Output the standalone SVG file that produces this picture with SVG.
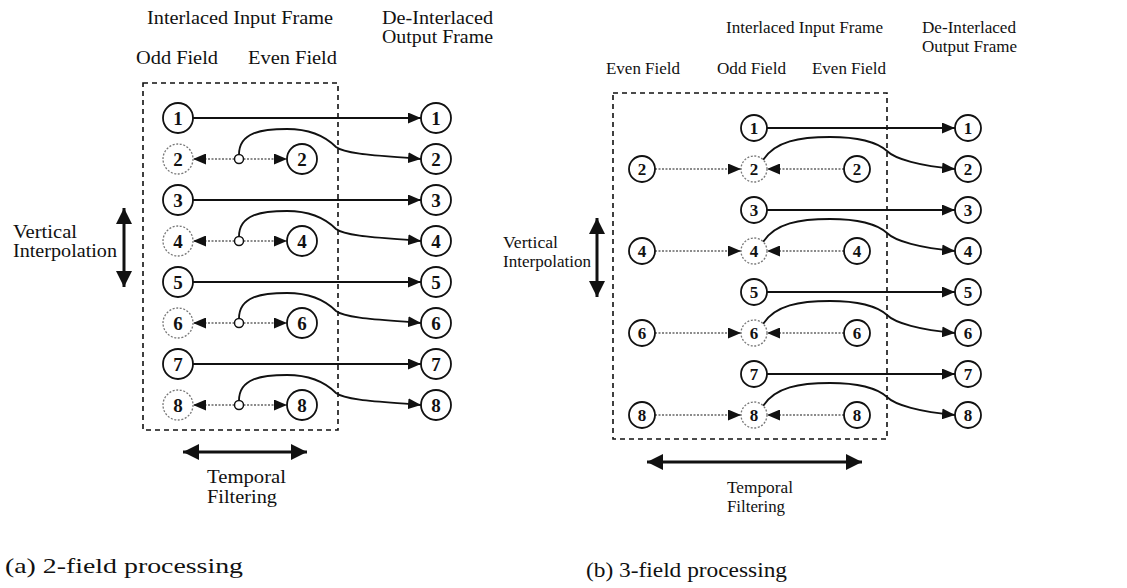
<svg xmlns="http://www.w3.org/2000/svg" width="1127" height="588" viewBox="0 0 1127 588">
<style>
text{font-family:"Liberation Serif","Times New Roman",serif;fill:#111}
.la{font-size:18px}
.lb{font-size:16px}
.cap{font-size:21px;font-family:"Liberation Serif",serif}
.n{fill:#fff;stroke:#111;stroke-width:1.8}
.nd{fill:#fff;stroke:#777;stroke-width:1.3;stroke-dasharray:2 1.6}
.da{font-size:19px;text-anchor:middle;font-weight:bold}
.db{font-size:17px;text-anchor:middle;font-weight:bold}
.box{fill:none;stroke:#111;stroke-width:1.6;stroke-dasharray:5 4}
.s{fill:none;stroke:#111;stroke-width:1.8}
.dot{fill:none;stroke:#666;stroke-width:1.4;stroke-dasharray:2 1.5}
.thick{fill:none;stroke:#111;stroke-width:3}
</style>
<defs>
<marker id="ah" markerUnits="userSpaceOnUse" markerWidth="13" markerHeight="11" refX="13" refY="5.5" orient="auto-start-reverse"><path d="M0,0 L13,5.5 L0,11 z" fill="#111"/></marker>
<marker id="big" markerUnits="userSpaceOnUse" markerWidth="16" markerHeight="16" refX="16" refY="8" orient="auto-start-reverse"><path d="M0,0 L16,8 L0,16 z" fill="#111"/></marker>
</defs>

<!-- ===== (a) 2-field ===== -->
<g id="labels-a">
<text class="la" x="147" y="24" textLength="186" lengthAdjust="spacingAndGlyphs">Interlaced Input Frame</text>
<text class="la" x="382" y="24" textLength="111" lengthAdjust="spacingAndGlyphs">De-Interlaced</text>
<text class="la" x="382" y="43" textLength="111" lengthAdjust="spacingAndGlyphs">Output Frame</text>
<text class="la" x="136" y="64" textLength="82" lengthAdjust="spacingAndGlyphs">Odd Field</text>
<text class="la" x="248" y="64" textLength="89" lengthAdjust="spacingAndGlyphs">Even Field</text>
<text class="la" x="13" y="238" textLength="64" lengthAdjust="spacingAndGlyphs">Vertical</text>
<text class="la" x="13" y="257" textLength="104" lengthAdjust="spacingAndGlyphs">Interpolation</text>
<text class="la" x="207" y="483" textLength="79" lengthAdjust="spacingAndGlyphs">Temporal</text>
<text class="la" x="207" y="503" textLength="70" lengthAdjust="spacingAndGlyphs">Filtering</text>
<text class="cap" x="5" y="573" textLength="238" lengthAdjust="spacingAndGlyphs">(a) 2-field processing</text>
</g>
<rect id="frame-a" class="box" x="143" y="83" width="195" height="347"/>

<g id="connectors-a">
<line class="s" x1="193" y1="118" x2="421" y2="118" marker-end="url(#ah)"/>
<line class="s" x1="193" y1="200" x2="421" y2="200" marker-end="url(#ah)"/>
<line class="s" x1="193" y1="282" x2="421" y2="282" marker-end="url(#ah)"/>
<line class="s" x1="193" y1="364" x2="421" y2="364" marker-end="url(#ah)"/>
<line class="dot" x1="234.5" y1="159" x2="193" y2="159" marker-end="url(#ah)"/>
<line class="dot" x1="243.5" y1="159" x2="287" y2="159" marker-end="url(#ah)"/>
<line class="dot" x1="234.5" y1="241" x2="193" y2="241" marker-end="url(#ah)"/>
<line class="dot" x1="243.5" y1="241" x2="287" y2="241" marker-end="url(#ah)"/>
<line class="dot" x1="234.5" y1="323" x2="193" y2="323" marker-end="url(#ah)"/>
<line class="dot" x1="243.5" y1="323" x2="287" y2="323" marker-end="url(#ah)"/>
<line class="dot" x1="234.5" y1="405" x2="193" y2="405" marker-end="url(#ah)"/>
<line class="dot" x1="243.5" y1="405" x2="287" y2="405" marker-end="url(#ah)"/>
<path class="s" d="M239,154.5 C239,132 262,129 287,129 C312,129 326,137 336,147 C346,155 390,156 421,159" marker-end="url(#ah)"/>
<path class="s" d="M239,236.5 C239,214 262,211 287,211 C312,211 326,219 336,229 C346,237 390,238 421,241" marker-end="url(#ah)"/>
<path class="s" d="M239,318.5 C239,296 262,293 287,293 C312,293 326,301 336,311 C346,319 390,320 421,323" marker-end="url(#ah)"/>
<path class="s" d="M239,400.5 C239,378 262,375 287,375 C312,375 326,383 336,393 C346,401 390,402 421,405" marker-end="url(#ah)"/>
<line class="thick" x1="124" y1="208" x2="124" y2="287" marker-start="url(#big)" marker-end="url(#big)"/>
<line class="thick" x1="183" y1="452" x2="307" y2="452" marker-start="url(#big)" marker-end="url(#big)"/>
</g>

<g id="a-odd-1"><circle class="n" cx="178" cy="118" r="15"/><text class="da" x="178" y="125">1</text></g>
<g id="a-odd-2"><circle class="nd" cx="178" cy="159" r="15"/><text class="da" x="178" y="166">2</text></g>
<g id="a-odd-3"><circle class="n" cx="178" cy="200" r="15"/><text class="da" x="178" y="207">3</text></g>
<g id="a-odd-4"><circle class="nd" cx="178" cy="241" r="15"/><text class="da" x="178" y="248">4</text></g>
<g id="a-odd-5"><circle class="n" cx="178" cy="282" r="15"/><text class="da" x="178" y="289">5</text></g>
<g id="a-odd-6"><circle class="nd" cx="178" cy="323" r="15"/><text class="da" x="178" y="330">6</text></g>
<g id="a-odd-7"><circle class="n" cx="178" cy="364" r="15"/><text class="da" x="178" y="371">7</text></g>
<g id="a-odd-8"><circle class="nd" cx="178" cy="405" r="15"/><text class="da" x="178" y="412">8</text></g>
<g id="a-even-2"><circle class="n" cx="302" cy="159" r="15"/><text class="da" x="302" y="166">2</text></g>
<g id="a-even-4"><circle class="n" cx="302" cy="241" r="15"/><text class="da" x="302" y="248">4</text></g>
<g id="a-even-6"><circle class="n" cx="302" cy="323" r="15"/><text class="da" x="302" y="330">6</text></g>
<g id="a-even-8"><circle class="n" cx="302" cy="405" r="15"/><text class="da" x="302" y="412">8</text></g>
<g id="a-mix-2"><circle class="n" cx="239" cy="159" r="4.5" style="stroke-width:1.5"/></g>
<g id="a-mix-4"><circle class="n" cx="239" cy="241" r="4.5" style="stroke-width:1.5"/></g>
<g id="a-mix-6"><circle class="n" cx="239" cy="323" r="4.5" style="stroke-width:1.5"/></g>
<g id="a-mix-8"><circle class="n" cx="239" cy="405" r="4.5" style="stroke-width:1.5"/></g>
<g id="a-out-1"><circle class="n" cx="436" cy="118" r="15"/><text class="da" x="436" y="125">1</text></g>
<g id="a-out-2"><circle class="n" cx="436" cy="159" r="15"/><text class="da" x="436" y="166">2</text></g>
<g id="a-out-3"><circle class="n" cx="436" cy="200" r="15"/><text class="da" x="436" y="207">3</text></g>
<g id="a-out-4"><circle class="n" cx="436" cy="241" r="15"/><text class="da" x="436" y="248">4</text></g>
<g id="a-out-5"><circle class="n" cx="436" cy="282" r="15"/><text class="da" x="436" y="289">5</text></g>
<g id="a-out-6"><circle class="n" cx="436" cy="323" r="15"/><text class="da" x="436" y="330">6</text></g>
<g id="a-out-7"><circle class="n" cx="436" cy="364" r="15"/><text class="da" x="436" y="371">7</text></g>
<g id="a-out-8"><circle class="n" cx="436" cy="405" r="15"/><text class="da" x="436" y="412">8</text></g>

<!-- ===== (b) 3-field ===== -->
<g id="labels-b">
<text class="lb" x="726" y="33" textLength="157" lengthAdjust="spacingAndGlyphs">Interlaced Input Frame</text>
<text class="lb" x="922" y="33" textLength="94" lengthAdjust="spacingAndGlyphs">De-Interlaced</text>
<text class="lb" x="922" y="52" textLength="95" lengthAdjust="spacingAndGlyphs">Output Frame</text>
<text class="lb" x="606" y="74" textLength="74" lengthAdjust="spacingAndGlyphs">Even Field</text>
<text class="lb" x="717" y="74" textLength="69" lengthAdjust="spacingAndGlyphs">Odd Field</text>
<text class="lb" x="812" y="74" textLength="74" lengthAdjust="spacingAndGlyphs">Even Field</text>
<text class="lb" x="503" y="248" textLength="55" lengthAdjust="spacingAndGlyphs">Vertical</text>
<text class="lb" x="503" y="267" textLength="88" lengthAdjust="spacingAndGlyphs">Interpolation</text>
<text class="lb" x="727" y="493" textLength="66" lengthAdjust="spacingAndGlyphs">Temporal</text>
<text class="lb" x="727" y="512" textLength="58" lengthAdjust="spacingAndGlyphs">Filtering</text>
<text class="cap" x="586" y="577" textLength="201" lengthAdjust="spacingAndGlyphs">(b) 3-field processing</text>
</g>
<rect id="frame-b" class="box" x="613" y="93" width="274" height="346"/>

<g id="connectors-b">
<line class="s" x1="767" y1="128" x2="955" y2="128" marker-end="url(#ah)"/>
<line class="s" x1="767" y1="210" x2="955" y2="210" marker-end="url(#ah)"/>
<line class="s" x1="767" y1="292" x2="955" y2="292" marker-end="url(#ah)"/>
<line class="s" x1="767" y1="374" x2="955" y2="374" marker-end="url(#ah)"/>
<line class="dot" x1="655" y1="169" x2="741" y2="169" marker-end="url(#ah)"/>
<line class="dot" x1="844" y1="169" x2="767" y2="169" marker-end="url(#ah)"/>
<line class="dot" x1="655" y1="251" x2="741" y2="251" marker-end="url(#ah)"/>
<line class="dot" x1="844" y1="251" x2="767" y2="251" marker-end="url(#ah)"/>
<line class="dot" x1="655" y1="333" x2="741" y2="333" marker-end="url(#ah)"/>
<line class="dot" x1="844" y1="333" x2="767" y2="333" marker-end="url(#ah)"/>
<line class="dot" x1="655" y1="415" x2="741" y2="415" marker-end="url(#ah)"/>
<line class="dot" x1="844" y1="415" x2="767" y2="415" marker-end="url(#ah)"/>
<path class="s" d="M763,160 C775,141 800,137 830,137 C860,137 878,143 887,151 C895,159 920,166 955,169" marker-end="url(#ah)"/>
<path class="s" d="M763,242 C775,223 800,219 830,219 C860,219 878,225 887,233 C895,241 920,248 955,251" marker-end="url(#ah)"/>
<path class="s" d="M763,324 C775,305 800,301 830,301 C860,301 878,307 887,315 C895,323 920,330 955,333" marker-end="url(#ah)"/>
<path class="s" d="M763,406 C775,387 800,383 830,383 C860,383 878,389 887,397 C895,405 920,412 955,415" marker-end="url(#ah)"/>
<line class="thick" x1="597" y1="218" x2="597" y2="297" marker-start="url(#big)" marker-end="url(#big)"/>
<line class="thick" x1="647" y1="462" x2="862" y2="462" marker-start="url(#big)" marker-end="url(#big)"/>
</g>

<g id="b-odd-1"><circle class="n" cx="754" cy="128" r="13"/><text class="db" x="754" y="134">1</text></g>
<g id="b-odd-2"><circle class="nd" cx="754" cy="169" r="13"/><text class="db" x="754" y="175">2</text></g>
<g id="b-odd-3"><circle class="n" cx="754" cy="210" r="13"/><text class="db" x="754" y="216">3</text></g>
<g id="b-odd-4"><circle class="nd" cx="754" cy="251" r="13"/><text class="db" x="754" y="257">4</text></g>
<g id="b-odd-5"><circle class="n" cx="754" cy="292" r="13"/><text class="db" x="754" y="298">5</text></g>
<g id="b-odd-6"><circle class="nd" cx="754" cy="333" r="13"/><text class="db" x="754" y="339">6</text></g>
<g id="b-odd-7"><circle class="n" cx="754" cy="374" r="13"/><text class="db" x="754" y="380">7</text></g>
<g id="b-odd-8"><circle class="nd" cx="754" cy="415" r="13"/><text class="db" x="754" y="421">8</text></g>
<g id="b-prev-2"><circle class="n" cx="642" cy="169" r="13"/><text class="db" x="642" y="175">2</text></g>
<g id="b-prev-4"><circle class="n" cx="642" cy="251" r="13"/><text class="db" x="642" y="257">4</text></g>
<g id="b-prev-6"><circle class="n" cx="642" cy="333" r="13"/><text class="db" x="642" y="339">6</text></g>
<g id="b-prev-8"><circle class="n" cx="642" cy="415" r="13"/><text class="db" x="642" y="421">8</text></g>
<g id="b-next-2"><circle class="n" cx="857" cy="169" r="13"/><text class="db" x="857" y="175">2</text></g>
<g id="b-next-4"><circle class="n" cx="857" cy="251" r="13"/><text class="db" x="857" y="257">4</text></g>
<g id="b-next-6"><circle class="n" cx="857" cy="333" r="13"/><text class="db" x="857" y="339">6</text></g>
<g id="b-next-8"><circle class="n" cx="857" cy="415" r="13"/><text class="db" x="857" y="421">8</text></g>
<g id="b-out-1"><circle class="n" cx="968" cy="128" r="13"/><text class="db" x="968" y="134">1</text></g>
<g id="b-out-2"><circle class="n" cx="968" cy="169" r="13"/><text class="db" x="968" y="175">2</text></g>
<g id="b-out-3"><circle class="n" cx="968" cy="210" r="13"/><text class="db" x="968" y="216">3</text></g>
<g id="b-out-4"><circle class="n" cx="968" cy="251" r="13"/><text class="db" x="968" y="257">4</text></g>
<g id="b-out-5"><circle class="n" cx="968" cy="292" r="13"/><text class="db" x="968" y="298">5</text></g>
<g id="b-out-6"><circle class="n" cx="968" cy="333" r="13"/><text class="db" x="968" y="339">6</text></g>
<g id="b-out-7"><circle class="n" cx="968" cy="374" r="13"/><text class="db" x="968" y="380">7</text></g>
<g id="b-out-8"><circle class="n" cx="968" cy="415" r="13"/><text class="db" x="968" y="421">8</text></g>
</svg>
